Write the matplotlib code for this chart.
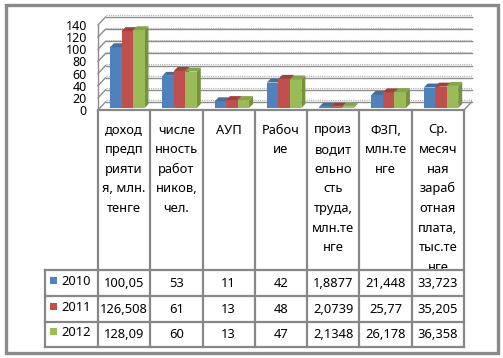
import matplotlib
matplotlib.use('Agg')
import matplotlib.pyplot as plt
from matplotlib.patches import Polygon, Rectangle

# categories as wrapped in the table header
categories = [
    "доход\nпредп\nрияти\nя, млн.\nтенге",
    "числе\nнность\nработ\nников,\nчел.",
    "АУП",
    "Рабоч\nие",
    "произ\nводит\nельно\nсть\nтруда,\nмлн.те\nнге",
    "ФЗП,\nмлн.те\nнге",
    "Ср.\nмесяч\nная\nзараб\nотная\nплата,\nтыс.те\nнге",
]
years = ["2010", "2011", "2012"]
v2010 = [100.05, 53, 11, 42, 1.8877, 21.448, 33.723]
v2011 = [126.508, 61, 13, 48, 2.0739, 25.77, 35.205]
v2012 = [128.09, 60, 13, 47, 2.1348, 26.178, 36.358]
yticks = [0, 20, 40, 60, 80, 100, 120, 140]

series = [v2010, v2011, v2012]
front = ["#4F81BD", "#C0504D", "#9BBB59"]
side = ["#3A6595", "#943A37", "#76923C"]
top = ["#44709F", "#A3403D", "#84A64A"]

W, H = 503, 358
plt.rcParams["font.family"] = ["Noto Sans", "DejaVu Sans"]
FS = 9.3

fig = plt.figure(figsize=(W / 100, H / 100), dpi=100)
ax0 = fig.add_axes([0, 0, 1, 1])
ax0.set_xlim(0, W)
ax0.set_ylim(H, 0)
ax0.axis("off")

# chart area (pixel geometry of the front plane)
x_left, x_right, y_zero, y_top = 98, 464, 110, 25
n = len(categories)
cw = (x_right - x_left) / n
ax = fig.add_axes([x_left / W, 1 - y_zero / H, (x_right - x_left) / W, (y_zero - y_top) / H])
ax.set_xlim(0, n)
ax.set_ylim(0, 140)
ax.patch.set_visible(False)
for s in ax.spines.values():
    s.set_visible(False)
ax.set_xticks([])
ax.set_yticks(yticks)
ax.set_yticklabels([str(t) for t in yticks], fontsize=9)
ax.tick_params(axis="y", length=0, pad=8)

upp = 140 / (y_zero - y_top)  # data units per pixel
dx, dy = 7.5 / cw, 8 * upp     # wall depth
gc = "#8c8c8c"
for v in yticks:
    ax.plot([dx, n + dx], [v + dy, v + dy], color=gc, lw=1, clip_on=False)
    ax.plot([dx, n + dx], [v + dy + 1.6 * upp] * 2, color="#b0b0b0", lw=0.8,
            ls=(0, (1, 1)), clip_on=False)
    ax.plot([0, dx], [v, v + dy], color=gc, lw=1, clip_on=False)
ax.plot([0, 0], [0, 140], color=gc, lw=1, clip_on=False)
ax.plot([n, n + dx], [0, dy], color=gc, lw=1, clip_on=False)

# 3D-ish bars
bw = 11.5 / cw
ox, oy = 12 / cw, 2 * upp
ddx, ddy = 4 / cw, 4 * upp
for k, vals in enumerate(series):
    for i, v in enumerate(vals):
        x0 = i + ox + k * bw
        ax.add_patch(Polygon([(x0 + bw, oy), (x0 + bw + ddx, oy + ddy),
                              (x0 + bw + ddx, oy + v + ddy), (x0 + bw, oy + v)],
                             closed=True, fc=side[k], ec="none", clip_on=False, zorder=3))
    ax.bar([i + ox + k * bw for i in range(n)], vals, width=bw, bottom=oy,
           align="edge", color=front[k], zorder=3, clip_on=False)
    for i, v in enumerate(vals):
        x0 = i + ox + k * bw
        ax.add_patch(Polygon([(x0, oy + v), (x0 + bw, oy + v), (x0 + bw + ddx, oy + v + ddy),
                              (x0 + ddx, oy + v + ddy)],
                             closed=True, fc=top[k], ec="none", clip_on=False, zorder=3))

# data table
lc = "#878787"
lw = 1.6
row_y = [270, 296, 321.5, 347]
x_leg = 45
cols = [x_left + i * cw for i in range(n + 1)]

# header text
for i, lab in enumerate(categories):
    cx = x_left + (i + 0.5) * cw
    for j, line in enumerate(lab.split("\n")):
        ax0.text(cx, 130 + j * 19.6, line, ha="center", va="center", fontsize=FS, zorder=2)
ax0.add_patch(Rectangle((x_leg, row_y[0]), x_right - x_leg, row_y[-1] - row_y[0],
                        fc="white", ec="none", zorder=3))

for x in cols:
    ax0.plot([x, x], [y_zero, row_y[-1]], color=lc, lw=lw, zorder=4)
ax0.plot([x_left, x_right], [y_zero, y_zero], color=lc, lw=lw, zorder=4)
for y in row_y:
    ax0.plot([x_leg, x_right], [y, y], color=lc, lw=lw, zorder=4)
ax0.plot([x_leg, x_leg], [row_y[0], row_y[-1]], color=lc, lw=lw, zorder=4)

def fmt(v):
    return str(v).replace(".", ",")

for k, vals in enumerate(series):
    cy = (row_y[k] + row_y[k + 1]) / 2
    ax0.add_patch(Rectangle((50, cy - 6), 7, 7, fc=front[k], ec="none", zorder=5))
    ax0.text(61, cy - 1.5, years[k], ha="left", va="center", fontsize=FS, zorder=5)
    for i, v in enumerate(vals):
        ax0.text(x_left + (i + 0.5) * cw, cy + 0.5, fmt(v), ha="center", va="center",
                 fontsize=FS, zorder=5)

# outer frame
ax0.add_patch(Rectangle((6, 5), 492, 348, fc="none", ec="#8a8a8a", lw=2.4, zorder=6))

fig.savefig("out.png", dpi=100)
